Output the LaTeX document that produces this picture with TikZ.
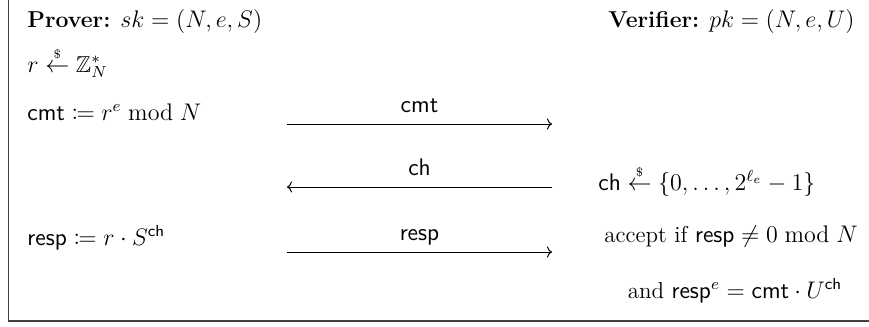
\documentclass[tikz,border=0pt]{standalone}
\usepackage{amsmath,amssymb,mathtools}
\usetikzlibrary{arrows.meta}
\newcommand{\sampleleft}{\overset{\scriptscriptstyle\$}{\leftarrow}}
\tikzset{
  txt/.style={inner sep=0pt, anchor=base west, font=\fontsize{11.5}{14}\selectfont},
  ctxt/.style={txt, anchor=base},
  msg/.style={line width=0.5pt, -{To[length=2.5pt,width=5.5pt]}},
  msglab/.style={inner sep=0pt, anchor=base, font=\fontsize{11.5}{14}\selectfont},
  frameline/.style={line width=0.8pt, draw=black!75}
}
\begin{document}
\begin{tikzpicture}[x=0.5pt, y=-0.5pt]
\useasboundingbox (0,0) rectangle (869,327);
% open frame on the left and bottom
\coordinate (ftop) at (8.5,0);
\coordinate (fcorner) at (8.5,321);
\coordinate (fright) at (869,321);
\draw[frameline] (ftop) -- (fcorner) -- (fright);

% party headers
\node[txt] (prover) at (27,27) {\textbf{Prover:} $sk = (N, e, S)$};
\node[txt] (verifier) at (608,27) {\textbf{Verifier:} $pk = (N, e, U)$};

% prover computations
\node[txt] (rsamp) at (27,72) {$r \sampleleft \mathbb{Z}_N^*$};
\node[txt] (cmtdef) at (27,120) {$\mathsf{cmt} \coloneqq r^e \bmod N$};
\node[txt] (respdef) at (27,245) {$\mathsf{resp} \coloneqq r \cdot S^{\mathsf{ch}}$};

% verifier computations
\node[txt] (chdef) at (598,190) {$\mathsf{ch} \sampleleft \{0, \dots, 2^{\ell_e} - 1\}$};
\node[ctxt] (accept) at (731,242) {accept if $\mathsf{resp} \neq 0 \bmod N$};
\node[ctxt] (check) at (735,298) {and $\mathsf{resp}^e = \mathsf{cmt} \cdot U^{\mathsf{ch}}$};

% messages
\coordinate (m1l) at (287,124);
\coordinate (m1r) at (552,124);
\coordinate (m2l) at (287,187);
\coordinate (m2r) at (552,187);
\coordinate (m3l) at (287,252);
\coordinate (m3r) at (552,252);
\draw[msg] (m1l) -- (m1r) node[msglab, pos=0.5, yshift=6pt] (cmtlab) {$\mathsf{cmt}$};
\draw[msg] (m2r) -- (m2l) node[msglab, pos=0.5, yshift=6pt] (chlab) {$\mathsf{ch}$};
\draw[msg] (m3l) -- (m3r) node[msglab, pos=0.5, yshift=6pt] (resplab) {$\mathsf{resp}$};
\end{tikzpicture}
\end{document}
